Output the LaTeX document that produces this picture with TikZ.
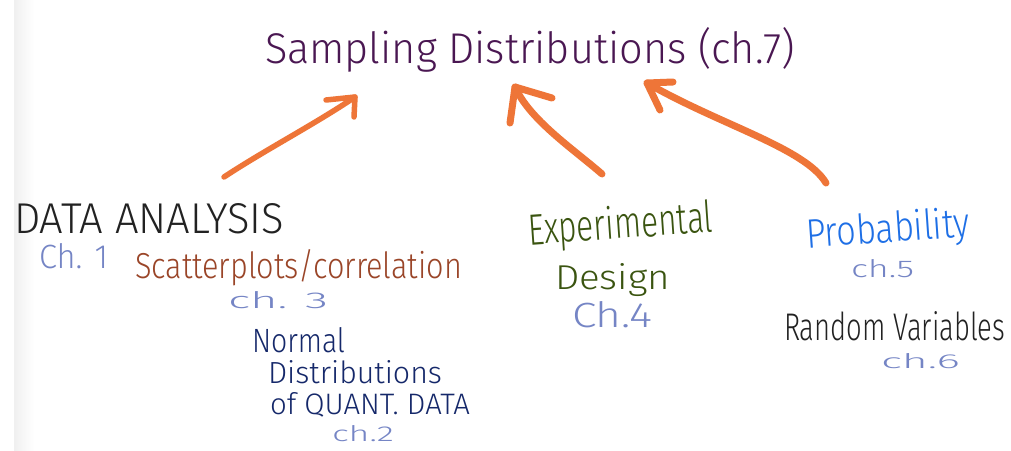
\documentclass[tikz,border=0pt]{standalone}
\usepackage{graphicx}
\usepackage{fontspec}
\setmainfont{Fira Sans}[UprightFont=* Light]
\definecolor{ttl}{HTML}{4A1752}
\definecolor{chp}{HTML}{7585C5}
\definecolor{brn}{HTML}{9A4528}
\definecolor{nav}{HTML}{15286A}
\definecolor{grn}{HTML}{3A5410}
\definecolor{blu}{HTML}{1E6FE6}
\definecolor{drk}{HTML}{222222}
\definecolor{org}{HTML}{EE7538}
\newcommand{\fitbox}[3]{\resizebox{#1pt}{#2pt}{#3}}
\tikzset{
  lbl/.style={anchor=base west, inner sep=0pt, outer sep=0pt},
  arr/.style={draw=org, line width=7pt, line cap=round, line join=round},
  arrthin/.style={draw=org, line width=5.5pt, line cap=round, line join=round}
}
\begin{document}
\begin{tikzpicture}[x=1pt,y=-1pt]
\useasboundingbox (0,0) rectangle (1011,450);
\fill[white] (0,0) rectangle (1011,450);
\shade[left color=black!6, right color=white] (14,0) rectangle (34,450);
% title
\node[lbl, text=ttl] (title) at (265,63) {\fitbox{530}{36}{Sampling Distributions (ch.7)}};
% left group
\node[lbl, text=drk] (data) at (14,233) {\fitbox{270}{30}{DATA ANALYSIS}};
\node[lbl, text=chp] (ch1) at (39,268) {\fitbox{69}{25}{Ch. 1}};
\node[lbl, text=brn] (scat) at (135,278) {\fitbox{327}{29}{Scatterplots/correlation}};
\node[lbl, text=chp] (ch3) at (228,308) {\fitbox{100}{17}{ch. 3}};
\node[lbl, text=nav] (norm1) at (252,352) {\fitbox{93}{25}{Normal}};
\node[lbl, text=nav] (norm2) at (268,383) {\fitbox{174}{23}{Distributions}};
\node[lbl, text=nav] (norm3) at (270,414) {\fitbox{200}{22}{of QUANT. DATA}};
\node[lbl, text=chp] (ch2) at (332,441) {\fitbox{62}{16}{ch.2}};
% middle group
\node[lbl, text=grn, rotate=4] (exp1) at (529,245) {\fitbox{185}{33}{Experimental}};
\node[lbl, text=grn] (exp2) at (555,289) {\fitbox{115}{26}{Design}};
\node[lbl, text=chp] (ch4) at (572,327) {\fitbox{80}{26}{Ch.4}};
% right group
\node[lbl, text=blu, rotate=4] (prob) at (807,248) {\fitbox{164}{31}{Probability}};
\node[lbl, text=chp] (ch5) at (851,277) {\fitbox{63}{18}{ch.5}};
\node[lbl, text=drk] (rand) at (784,340) {\fitbox{221}{29}{Random Variables}};
\node[lbl, text=chp] (ch6) at (881,368) {\fitbox{79}{15}{ch.6}};
% arrow end points
\coordinate (t1) at (224,177);
\coordinate (h1) at (355,97);
\coordinate (t2) at (602,174);
\coordinate (h2) at (515,87);
\coordinate (t3) at (826,183);
\coordinate (h3) at (647,83);
% arrows
\draw[arrthin] (t1) .. controls (265,150) and (315,124) .. (h1);
\draw[arrthin] (326,100) -- (h1) -- (354,117);
\draw[arr] (t2) .. controls (572,148) and (530,120) .. (h2);
\draw[arr] (552,98) -- (h2) -- (510,123);
\draw[arr] (t3) .. controls (805,148) and (720,125) .. (h3);
\draw[arr] (673,82) -- (h3) -- (660,110);
\end{tikzpicture}
\end{document}
